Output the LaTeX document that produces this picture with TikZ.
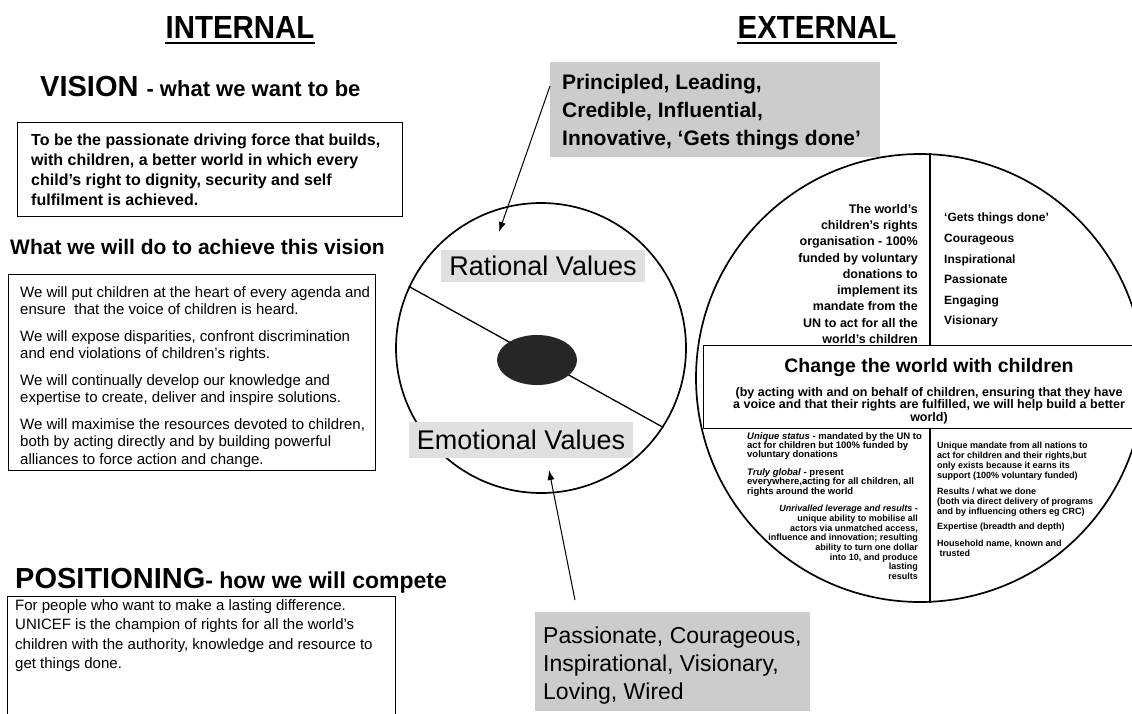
\documentclass[tikz,border=0pt]{standalone}
\usepackage{fontspec}
\setmainfont{Liberation Sans}
\newfontfamily\headfont[FakeStretch=0.92]{Liberation Sans}
\usepackage{tikz}
\usetikzlibrary{arrows.meta,positioning,shapes.geometric}

\newcommand{\fsize}[2]{\fontsize{#1}{#2}\selectfont}
\newcommand{\tightlines}{\lineskiplimit=-5pt\relax}

\tikzstyle{box}=[draw,line width=0.8pt,inner sep=0pt]
\tikzstyle{greybg}=[fill=black!20,inner sep=0pt]
\tikzstyle{ring}=[draw,circle,line width=1.7pt,inner sep=0pt]
\tikzstyle{txt}=[inner sep=0pt,align=left]
\tikzstyle{pointer}=[-{Latex[length=10pt,width=7pt]},line width=1pt]

\begin{document}
\begin{tikzpicture}[x=1pt,y=-1pt]
  \useasboundingbox[fill=white] (0,0) rectangle (1132,713);

  % column headings
  \node[font=\headfont\bfseries\fsize{32}{34},inner xsep=0pt,inner ysep=5pt] (internal) at (240,27) {INTERNAL};
  \draw[line width=2pt] (internal.south west) -- (internal.south east);
  \node[font=\headfont\bfseries\fsize{32}{34},inner xsep=0pt,inner ysep=5pt] (external) at (817,27) {EXTERNAL};
  \draw[line width=2pt] (external.south west) -- (external.south east);

  % vision
  \node[txt,anchor=base west,font=\bfseries] (vision) at (40,96) {\fsize{29}{32}VISION \fsize{22}{24}- what we want to be};
  \node[box,anchor=north west,minimum width=385pt,minimum height=94pt] (visionbox) at (17,122) {};
  \node[txt,below right=11.5pt and 14pt of visionbox.north west,font=\bfseries\fsize{16}{20}] (visiontext) {To be the passionate driving force that builds,\\
    with children, a better world in which every\\
    child's right to dignity, security and self\\
    fulfilment is achieved.};

  % what we will do
  \node[txt,anchor=base west,font=\bfseries\fsize{21}{24}] (doing) at (10,254) {What we will do to achieve this vision};
  \node[box,anchor=north west,minimum width=367pt,minimum height=196pt] (dobox) at (8,274) {};
  \node[txt,below right=12pt and 12pt of dobox.north west,font=\fsize{15}{17.5}] (dotext) {We will put children at the heart of every agenda and\\
    ensure\ \ that the voice of children is heard.\\[9pt]
    We will expose disparities, confront discrimination\\
    and end violations of children's rights.\\[9pt]
    We will continually develop our knowledge and\\
    expertise to create, deliver and inspire solutions.\\[9pt]
    We will maximise the resources devoted to children,\\
    both by acting directly and by building powerful\\
    alliances to force action and change.};

  % positioning
  \node[txt,anchor=base west,font=\bfseries] (positioning) at (15,588) {\fsize{29}{32}POSITIONING\fsize{23}{24}- how we will compete};
  \node[box,anchor=north west,minimum width=388pt,minimum height=140pt] (posbox) at (7,596) {};
  \node[txt,below right=3pt and 8pt of posbox.north west,font=\fsize{15}{19.5}] (postext) {For people who want to make a lasting difference.\\
    UNICEF is the champion of rights for all the world's\\
    children with the authority, knowledge and resource to\\
    get things done.};

  % values circle
  \node[ring,minimum size=290pt] (values) at (541,348) {};
  \draw[line width=1.3pt] (values.155) -- (values.-33);
  \node[ellipse,fill=black!85,minimum width=80pt,minimum height=50pt,inner sep=0pt] (core) at (537,360) {};
  \node[greybg,fill=black!12,inner xsep=8pt,inner ysep=6pt,font=\fsize{27}{28}] (rational) at (543,266) {Rational Values};
  \node[greybg,fill=black!12,inner xsep=8pt,inner ysep=8pt,font=\fsize{27}{28}] (emotional) at (521,440) {Emotional Values};

  % callouts and pointers
  \node[greybg,anchor=north west,minimum width=330pt,minimum height=95pt] (topcall) at (550,62) {};
  \node[txt,below right=12pt and 12pt of topcall.north west,font=\bfseries\fsize{21}{28}] (toptext) {Principled, Leading,\\
    Credible, Influential,\\
    Innovative, ‘Gets things done’};
  \coordinate (rattip) at (499,232);
  \draw[pointer] ([yshift=-24pt]topcall.north west) -- (rattip);

  \node[greybg,anchor=north west,minimum width=275pt,minimum height=99pt] (botcall) at (535,612) {};
  \node[txt,below right=15pt and 8pt of botcall.north west,font=\fsize{23}{28}] (bottext) {Passionate, Courageous,\\
    Inspirational, Visionary,\\
    Loving, Wired};
  \coordinate (emotip) at (549,470);
  \draw[pointer] ([shift={(40pt,12pt)}]botcall.north west) -- (emotip);

  % brand circle
  \node[ring,minimum size=448pt] (brand) at (920,378) {};
  \node[box,fill=white,anchor=north west,minimum width=452pt,minimum height=83pt] (promise) at (703,345) {};
  \draw[line width=1.2pt] ([xshift=10pt]brand.north) -- ([xshift=10pt]brand.north |- promise.north);
  \draw[line width=1.2pt] ([xshift=10pt]brand.south |- promise.south) -- ([xshift=10pt]brand.south);
  \node[font=\bfseries\fsize{19.5}{20},anchor=base,inner sep=0pt] (promisetitle) at (929,372) {Change the world with children};
  \node[align=center,anchor=north,inner sep=0pt,font=\bfseries\fsize{12.5}{12.5}\tightlines] (promisetext) at (929,387) {(by acting with and on behalf of children, ensuring that they have\\
    a voice and that their rights are fulfilled, we will help build a better\\
    world)};

  \node[anchor=north east,align=right,inner sep=0pt,font=\bfseries\fsize{12.5}{16.25}] (mission) at (918,204) {The world's\\
    children's rights\\
    organisation - 100\%\\
    funded by voluntary\\
    donations to\\
    implement its\\
    mandate from the\\
    UN to act for all the\\
    world's children};
  \node[txt,anchor=north west,font=\bfseries\fsize{12}{20.6}] (traits) at (944,213) {‘Gets things done’\\
    Courageous\\
    Inspirational\\
    Passionate\\
    Engaging\\
    Visionary};

  \node[txt,anchor=north west,font=\bfseries\fsize{9.5}{9.2}\tightlines] (status) at (747,432) {\textit{Unique status} - mandated by the UN to\\
    act for children but 100\% funded by\\
    voluntary donations\\[9pt]
    \textit{Truly global} - present\\
    everywhere,acting for all children, all\\
    rights around the world};
  \node[anchor=north east,align=right,inner sep=0pt,font=\bfseries\fsize{9}{9.7}\tightlines] (leverage) at (918,505) {\textit{Unrivalled leverage and results} -\\
    unique ability to mobilise all\\
    actors via unmatched access,\\
    influence and innovation; resulting\\
    ability to turn one dollar\\
    into 10, and produce\\
    lasting\\
    results};
  \node[txt,anchor=north west,font=\bfseries\fsize{9}{10}\tightlines] (reasons) at (937,442) {Unique mandate from all nations to\\
    act for children and their rights,but\\
    only exists because it earns its\\
    support (100\% voluntary funded)\\[6pt]
    Results / what we done\\
    (both via direct delivery of programs\\
    and by influencing others eg CRC)\\[5pt]
    Expertise (breadth and depth)\\[7pt]
    Household name, known and\\
    \ trusted};
\end{tikzpicture}
\end{document}
